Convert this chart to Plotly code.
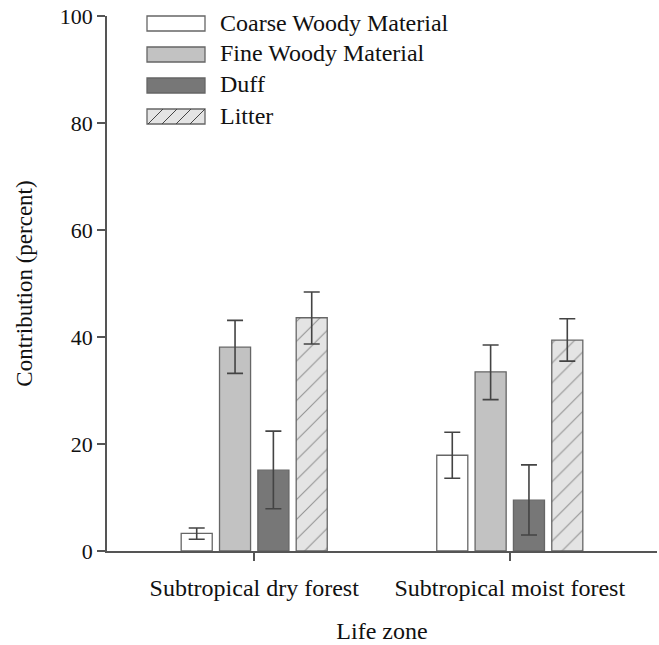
import plotly.graph_objects as go

categories = ["Subtropical dry forest", "Subtropical moist forest"]
series_names = ["Coarse Woody Material", "Fine Woody Material", "Duff", "Litter"]
values = {
    "Coarse Woody Material": [3.3, 17.9],
    "Fine Woody Material": [38.1, 33.5],
    "Duff": [15.1, 9.5],
    "Litter": [43.6, 39.4],
}
err_plus = {
    "Coarse Woody Material": [1.0, 4.3],
    "Fine Woody Material": [5.0, 5.0],
    "Duff": [7.3, 6.6],
    "Litter": [4.8, 4.0],
}
err_minus = {
    "Coarse Woody Material": [1.1, 4.3],
    "Fine Woody Material": [4.9, 5.2],
    "Duff": [7.2, 6.5],
    "Litter": [4.9, 3.9],
}
y_ticks = [0, 20, 40, 60, 80, 100]

fills = {
    "Coarse Woody Material": "#ffffff",
    "Fine Woody Material": "#c2c2c2",
    "Duff": "#777777",
    "Litter": "#e4e4e4",
}
outline = "#666666"
FONT = "Liberation Serif"

fig = go.Figure()
for name in series_names:
    pattern = dict(shape="/", fgcolor="#444444", bgcolor=fills[name], size=14, solidity=0.08) \
        if name == "Litter" else dict(shape="")
    fig.add_trace(go.Bar(
        x=categories, y=values[name], name=name,
        marker=dict(color=fills[name], line=dict(color=outline, width=1.3), pattern=pattern),
        error_y=dict(type="data", array=err_plus[name], arrayminus=err_minus[name],
                     color="#444444", thickness=1.6, width=8),
        showlegend=False,
    ))

W, H = 659, 645
# plot area in pixels
L, R, T, B = 107, 657, 16, 551
def px(x): return (x - L) / (R - L)
def py(y): return (B - y) / (B - T)

shapes = []
annotations = []
rows = [(16, 31), (47, 62), (78, 93), (109, 124)]
for name, (y0, y1) in zip(series_names, rows):
    shapes.append(dict(type="rect", xref="paper", yref="paper",
                       x0=px(147), x1=px(205), y0=py(y1), y1=py(y0),
                       fillcolor=fills[name], line=dict(color=outline, width=1.3)))
    annotations.append(dict(text=name, xref="paper", yref="paper", x=px(218), y=py((y0 + y1) / 2 - 1),
                            xanchor="left", yanchor="middle", showarrow=False,
                            font=dict(family=FONT, size=24, color="#111111")))
# hatch on legend swatch
y0, y1 = rows[3]
for x0 in [148, 162, 176, 190]:
    x1 = min(x0 + (y1 - y0), 205)
    ye = y1 - (x1 - x0)
    shapes.append(dict(type="line", xref="paper", yref="paper",
                       x0=px(x0), y0=py(y1), x1=px(x1), y1=py(ye),
                       line=dict(color="#444444", width=1)))

fig.update_layout(
    width=W, height=H,
    margin=dict(l=L, r=W - R, t=T, b=H - B),
    paper_bgcolor="white", plot_bgcolor="white",
    barmode="group", bargap=0.4, bargroupgap=0.19,
    shapes=shapes, annotations=annotations,
    font=dict(family=FONT, size=22, color="#111111"),
)
fig.update_xaxes(
    type="category", range=[-0.576, 1.576],
    showline=True, linecolor="#555555", linewidth=1.5,
    ticks="outside", ticklen=8, tickwidth=1.5, tickcolor="#555555",
    showgrid=False, zeroline=False, ticklabelstandoff=6,
    title=dict(text="Life zone", font=dict(family=FONT, size=24), standoff=23),
    tickfont=dict(family=FONT, size=24),
)
fig.update_yaxes(
    range=[0, 100], tickvals=y_ticks,
    showline=True, linecolor="#555555", linewidth=1.5,
    ticks="outside", ticklen=8, tickwidth=1.5, tickcolor="#555555",
    showgrid=False, zeroline=False, ticklabelstandoff=0,
    title=dict(text="Contribution (percent)", font=dict(family=FONT, size=23), standoff=21),
    tickfont=dict(family=FONT, size=22),
)

fig.write_html(
    "out.html",
    config={"displayModeBar": False},
    post_script="document.body.style.margin='0';document.body.style.padding='0';",
)
